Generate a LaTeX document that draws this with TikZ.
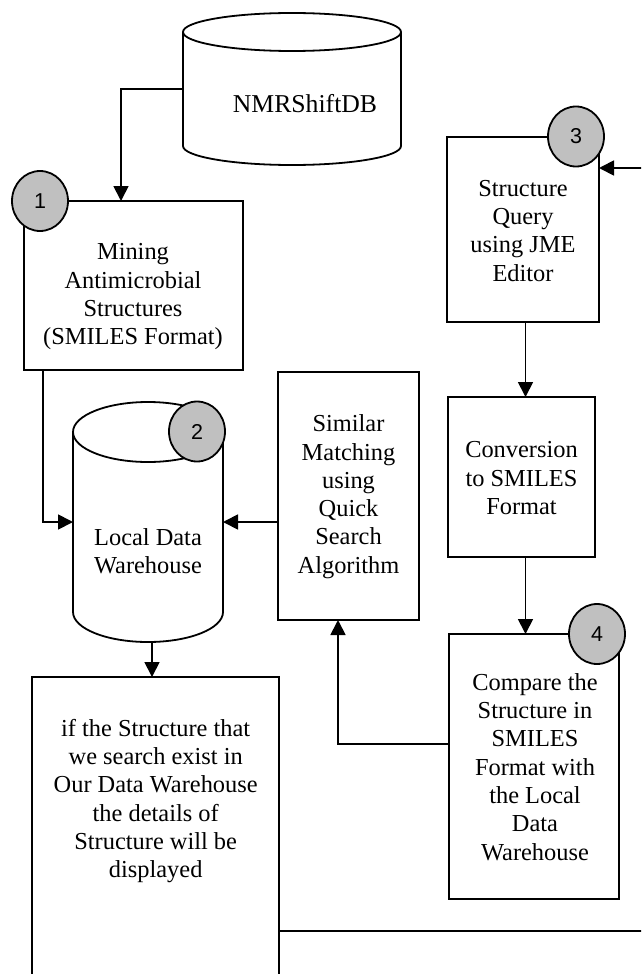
\documentclass[tikz,border=0pt]{standalone}
\usepackage{fontspec}
\setmainfont{Liberation Serif}
\newfontfamily\numfont{Liberation Sans}
\usetikzlibrary{arrows.meta}
\usetikzlibrary{shapes.geometric}
\definecolor{numgray}{RGB}{192,192,192}

% outline of a database drum round an empty node
\newcommand\drum[3]{%
  \draw ([yshift=-#3]#1.north west) -- ([yshift=#3]#1.south west)
    arc[start angle=180, end angle=360, x radius=#2, y radius=#3]
    -- ([yshift=-#3]#1.north east);
  \draw ([yshift=-#3]#1.north) ellipse [x radius=#2, y radius=#3];}

\begin{document}
\begin{tikzpicture}[x=1pt, y=1pt, line width=1.8pt,
    box/.style={draw, rectangle, inner sep=0pt, outer sep=0pt},
    drumspace/.style={rectangle, inner sep=0pt, outer sep=0pt},
    txt/.style={align=center, font=\fontsize{24.4}{28.3}\selectfont},
    num/.style={ellipse, draw, fill=numgray, minimum width=56pt, minimum height=60pt,
      inner sep=0pt, font=\numfont\fontsize{21.5}{24}\selectfont},
    flow/.style={-{Triangle[length=15pt, width=15pt]}}]
            \useasboundingbox (0,0) rectangle (641,-974);
            \clip (0,0) rectangle (641,-974);

            \node[drumspace, minimum width=218, minimum height=152] (nmr) at (292,-89) {};
            \drum{nmr}{109pt}{19pt}
            \node[txt, font=\fontsize{25.7}{30}\selectfont, anchor=base] (nmrt) at (305,-112) {NMRShiftDB};

            \node[box, minimum width=219, minimum height=169] (mine) at (133.5,-285.5) {};
            \node[txt] (minet) at (133,-296.7) {Mining\\Antimicrobial\\Structures\\(SMILES Format)};

            \node[drumspace, minimum width=150, minimum height=240] (dwh) at (148,-522) {};
            \drum{dwh}{75pt}{30pt}
            \node[txt] (dwht) at (148,-551.5) {Local Data\\Warehouse};

            \node[box, minimum width=141, minimum height=248] (sim) at (348.5,-496) {};
            \node[txt] (simt) at (348.5,-496.7) {Similar\\Matching\\using\\Quick\\Search\\Algorithm};

            \node[box, minimum width=152, minimum height=185] (qry) at (523,-229.5) {};
            \node[txt] (qryt) at (523,-230.8) {Structure\\Query\\using JME\\Editor};

            \node[box, minimum width=147, minimum height=160] (conv) at (521.5,-477) {};
            \node[txt] (convt) at (521.5,-478.3) {Conversion\\to SMILES\\Format};

            \node[box, minimum width=170, minimum height=265] (cmp) at (534,-766.5) {};
            \node[txt] (cmpt) at (535,-767) {Compare the\\Structure in\\SMILES\\Format with\\the Local\\Data\\Warehouse};

            \node[box, minimum width=247, minimum height=508] (res) at (155.5,-931) {};
            \node[txt] (rest) at (155.7,-801) {if the Structure that\\we search exist in\\Our Data Warehouse\\the details of\\Structure will be\\displayed};

            \coordinate (rim) at (655,-500);

            \draw[flow] (nmr.west) -| ([xshift=-12.5pt]mine.north);
            \draw[flow] ([xshift=19pt]mine.south west) |- (dwh.west);
            \draw[flow] (sim.west |- dwh.east) -- (dwh.east);
            \draw[flow] ([xshift=4pt]dwh.south) -- ([xshift=4pt]dwh.south |- res.north);
            \draw[flow] ([xshift=2.5pt]qry.south) -- ([xshift=2.5pt]qry.south |- conv.north);
            \draw[flow] ([xshift=4pt]conv.south) -- ([xshift=4pt]conv.south |- cmp.north);
            \draw[flow] ([yshift=22.5pt]cmp.west) -| ([xshift=-10.5pt]sim.south);
            \draw[flow] (res.east) -| (rim) |- ([yshift=-31pt]qry.north east);

            \node[num] (n1) at (40,-201) {1};
            \node[num] (n2) at (197,-431.5) {2};
            \node[num] (n3) at (576,-136.5) {3};
            \node[num] (n4) at (597,-634) {4};
        \end{tikzpicture}
\end{document}
